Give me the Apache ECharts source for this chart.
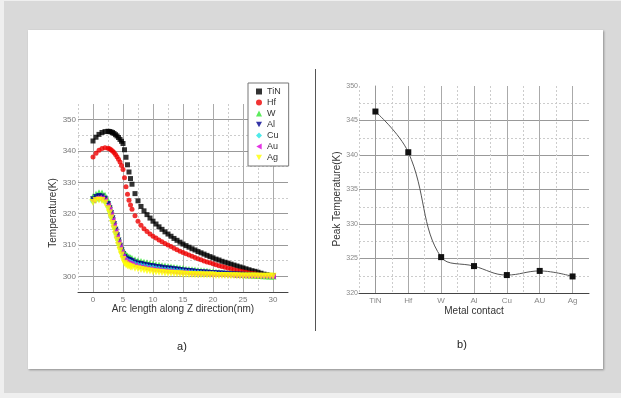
<!DOCTYPE html>
<html>
<head>
<meta charset="utf-8">
<title>Temperature profiles</title>
<script src="https://cdn.jsdelivr.net/npm/echarts@6/dist/echarts.min.js"></script>
<style>
    html, body { margin: 0; padding: 0; }
    body { width: 621px; height: 398px; background: #efefef; position: relative; overflow: hidden; }
    .frame { position: absolute; left: 4px; top: 1px; width: 617px; height: 392px; background: #d9d9d9; }
    .card { position: absolute; left: 28px; top: 30px; width: 575px; height: 339px; background: #fff; box-shadow: 1px 1px 2px rgba(0, 0, 0, 0.35); }
    #main { position: absolute; left: 0; top: 0; width: 621px; height: 398px; }
</style>
</head>
<body>
<div class="frame"></div>
<div class="card"></div>
<div id="main"></div>
<script>
    // a) temperature along the arc (nm), one row per metal
    var arcLen = [0, 0.5, 1, 1.5, 2, 2.5,
        2.75, 3, 3.25, 3.5, 3.75, 4, 4.25, 4.5, 4.75, 5, 5.25, 5.5, 5.75, 6, 6.25, 6.5,
        7, 7.5, 8, 8.5, 9, 9.5,
        10, 10.5, 11, 11.5, 12, 12.5, 13, 13.5, 14, 14.5, 15, 15.5, 16, 16.5, 17, 17.5, 18, 18.5, 19, 19.5,
        20, 20.5, 21, 21.5, 22, 22.5, 23, 23.5, 24, 24.5, 25, 25.5, 26, 26.5, 27, 27.5, 28, 28.5, 29, 29.5, 30];

    var tin = [343.2, 344.4, 345.3, 345.9, 346.2, 346.3,
        346.2, 346.1, 345.9, 345.6, 345.2, 344.8, 344.3, 343.7, 343.1, 342.4, 340.4, 338.0, 335.6, 333.3, 331.2, 329.4,
        326.4, 324.1, 322.3, 320.9, 319.7, 318.6,
        317.6, 316.7, 315.8, 315.0, 314.2, 313.5, 312.8, 312.1, 311.5, 310.9, 310.3, 309.8, 309.3, 308.8, 308.4, 307.9, 307.5, 307.1, 306.7, 306.3,
        305.9, 305.5, 305.2, 304.8, 304.5, 304.2, 303.9, 303.6, 303.3, 303.0, 302.7, 302.4, 302.1, 301.8, 301.6, 301.3, 301.0, 300.7, 300.5, 300.3, 300.1];
    var hf = [338.1, 339.3, 340.2, 340.8, 341.0, 340.9,
        340.7, 340.4, 340.0, 339.5, 338.9, 338.2, 337.4, 336.5, 335.4, 334.1, 331.5, 328.6, 326.2, 324.3, 322.8, 321.4,
        319.3, 317.6, 316.3, 315.2, 314.3, 313.5,
        312.8, 312.2, 311.6, 311.0, 310.5, 310.0, 309.5, 309.0, 308.5, 308.0, 307.6, 307.2, 306.8, 306.4, 306.0, 305.6, 305.3, 304.9, 304.6, 304.3,
        304.0, 303.7, 303.4, 303.1, 302.9, 302.6, 302.4, 302.1, 301.9, 301.7, 301.5, 301.3, 301.1, 300.9, 300.8, 300.6, 300.5, 300.3, 300.2, 300.1, 300.0];
    var w = [325.4, 326.2, 326.7, 326.6, 325.9, 324.2,
        322.9, 321.3, 319.6, 317.8, 316.0, 314.2, 312.5, 310.9, 309.5, 308.3, 307.5, 306.9, 306.5, 306.2, 305.9, 305.7,
        305.3, 305.0, 304.7, 304.5, 304.3, 304.1,
        303.9, 303.7, 303.6, 303.4, 303.3, 303.1, 303.0, 302.8, 302.7, 302.6, 302.5, 302.3, 302.2, 302.1, 302.0, 301.9, 301.8, 301.7, 301.6, 301.5,
        301.4, 301.3, 301.2, 301.1, 301.0, 300.9, 300.9, 300.8, 300.7, 300.6, 300.6, 300.5, 300.5, 300.4, 300.4, 300.3, 300.3, 300.2, 300.2, 300.1, 300.1];
    var al = [324.6, 325.3, 325.6, 325.5, 324.8, 323.1,
        321.8, 320.2, 318.5, 316.7, 314.9, 313.1, 311.4, 309.8, 308.4, 307.1, 306.2, 305.7, 305.4, 305.2, 305.0, 304.8,
        304.4, 304.1, 303.9, 303.7, 303.5, 303.3,
        303.2, 303.0, 302.9, 302.7, 302.6, 302.5, 302.4, 302.3, 302.2, 302.0, 301.9, 301.8, 301.7, 301.6, 301.5, 301.4, 301.3, 301.2, 301.2, 301.1,
        301.1, 301.0, 300.9, 300.9, 300.8, 300.7, 300.7, 300.6, 300.6, 300.5, 300.5, 300.4, 300.4, 300.3, 300.3, 300.2, 300.2, 300.2, 300.1, 300.1, 300.1];
    var cu = [323.8, 324.4, 324.6, 324.5, 323.8, 322.2,
        320.9, 319.4, 317.7, 315.9, 314.1, 312.4, 310.7, 309.2, 307.8, 306.6, 305.8, 305.3, 305.0, 304.8, 304.6, 304.4,
        304.0, 303.7, 303.5, 303.3, 303.1, 302.9,
        302.8, 302.6, 302.5, 302.3, 302.2, 302.1, 302.0, 301.9, 301.8, 301.7, 301.6, 301.5, 301.4, 301.3, 301.2, 301.2, 301.1, 301.0, 301.0, 300.9,
        300.9, 300.8, 300.7, 300.7, 300.6, 300.5, 300.5, 300.4, 300.4, 300.3, 300.3, 300.3, 300.3, 300.2, 300.2, 300.2, 300.1, 300.1, 300.1, 300.1, 300.0];
    var au = [324.2, 324.9, 325.1, 325.0, 324.3, 322.6,
        321.3, 319.7, 318.0, 316.2, 314.4, 312.6, 310.9, 309.3, 307.8, 306.3, 305.2, 304.7, 304.4, 304.2, 304.0, 303.8,
        303.5, 303.2, 303.0, 302.8, 302.6, 302.4,
        302.3, 302.1, 302.0, 301.9, 301.8, 301.7, 301.6, 301.5, 301.4, 301.3, 301.3, 301.2, 301.1, 301.0, 301.0, 300.9, 300.9, 300.8, 300.8, 300.7,
        300.7, 300.6, 300.6, 300.5, 300.5, 300.4, 300.4, 300.3, 300.3, 300.3, 300.3, 300.2, 300.2, 300.2, 300.2, 300.1, 300.1, 300.1, 300.1, 300.0, 300.0];
    var ag = [323.6, 324.2, 324.4, 324.2, 323.4, 321.6,
        320.2, 318.6, 316.9, 315.1, 313.3, 311.5, 309.8, 308.2, 306.8, 305.4, 304.2, 303.7, 303.4, 303.2, 303.0, 302.9,
        302.6, 302.4, 302.2, 302.0, 301.8, 301.7,
        301.5, 301.4, 301.3, 301.2, 301.1, 301.0, 301.0, 300.9, 300.8, 300.8, 300.7, 300.7, 300.6, 300.6, 300.5, 300.5, 300.5, 300.4, 300.4, 300.4,
        300.4, 300.3, 300.3, 300.3, 300.3, 300.2, 300.2, 300.2, 300.2, 300.1, 300.1, 300.1, 300.1, 300.1, 300.1, 300.0, 300.0, 300.0, 300.0, 300.0, 300.0];

    // b) peak temperature per metal contact
    var metals = ['TiN', 'Hf', 'W', 'Al', 'Cu', 'AU', 'Ag'];
    var peakTemp = [346.3, 340.4, 325.2, 323.9, 322.6, 323.2, 322.4];

    var FONT = 'Liberation Sans';
    var TRI_DOWN = 'path://M0,0L10,0L5,9Z';
    var TRI_LEFT = 'path://M9,0L9,10L0,5Z';

    var curves = [
        { name: 'TiN', data: tin, color: '#000000', symbol: 'rect', size: 5 },
        { name: 'Hf', data: hf, color: '#ee0000', symbol: 'circle', size: 5 },
        { name: 'W', data: w, color: '#33e633', symbol: 'triangle', size: 7 },
        { name: 'Al', data: al, color: '#000090', symbol: TRI_DOWN, size: 6 },
        { name: 'Cu', data: cu, color: '#22e5e5', symbol: 'diamond', size: 6 },
        { name: 'Au', data: au, color: '#dd00dd', symbol: TRI_LEFT, size: 6 },
        { name: 'Ag', data: ag, color: '#ffff00', symbol: TRI_DOWN, size: 7 }
    ];

    var series = curves.map(function(c) {
        return {
            name: c.name,
            type: 'scatter',
            xAxisIndex: 0,
            yAxisIndex: 0,
            symbol: c.symbol,
            symbolSize: c.size,
            itemStyle: { color: c.color },
            data: arcLen.map(function(x, i) { return [x, c.data[i]]; })
        };
    });

    series.push({
        name: 'Peak',
        type: 'line',
        xAxisIndex: 2,
        yAxisIndex: 2,
        smooth: 0.4,
        symbol: 'rect',
        symbolSize: 6,
        lineStyle: { color: '#555', width: 1 },
        itemStyle: { color: '#111' },
        data: peakTemp.map(function(v, i) { return [i, v]; })
    });

    var solidGrid = function(colors) {
        return { show: true, showMaxLine: false, lineStyle: { color: colors, width: 1, type: 'solid' } };
    };
    var dotGrid = function(colors) {
        return { show: true, showMaxLine: false, lineStyle: { color: colors, width: 1, type: [2, 2] } };
    };
    var hiddenAxis = { axisLine: { show: false }, axisTick: { show: false }, axisLabel: { show: false } };

    var myChart = echarts.init(document.getElementById('main'));
    var option = {
        animation: false,
        backgroundColor: 'transparent',
        textStyle: { fontFamily: FONT },
        grid: [
            { left: 78, top: 104, width: 210, height: 188 },
            { left: 359, top: 86, width: 230, height: 207 }
        ],
        legend: {
            data: curves.map(function(c) { return c.name; }),
            orient: 'vertical',
            left: 248,
            top: 83,
            padding: [4, 8, 4, 8],
            itemWidth: 6,
            itemHeight: 6,
            itemGap: 2,
            backgroundColor: '#fff',
            borderColor: '#777',
            borderWidth: 1,
            borderRadius: 0,
            textStyle: { fontSize: 9, color: '#333', fontFamily: FONT }
        },
        xAxis: [
            {
                gridIndex: 0, type: 'value', min: -2.5, max: 32.5, interval: 2.5,
                axisLine: { show: true, onZero: false, lineStyle: { color: '#444' } },
                axisTick: { show: false },
                axisLabel: {
                    fontSize: 8, color: '#777', margin: 4,
                    formatter: function(v) { return v % 5 === 0 ? String(v) : ''; }
                },
                splitLine: solidGrid(['transparent', '#aaa'])
            },
            Object.assign({
                gridIndex: 0, type: 'value', min: -2.5, max: 32.5, interval: 2.5, position: 'top',
                splitLine: dotGrid(['#ccc', 'transparent'])
            }, hiddenAxis),
            {
                gridIndex: 1, type: 'value', min: -0.5, max: 6.5, interval: 0.5,
                axisLine: { show: true, onZero: false, lineStyle: { color: '#444' } },
                axisTick: { show: false },
                axisLabel: {
                    fontSize: 8, color: '#888', margin: 4,
                    formatter: function(v) { return Number.isInteger(v) && metals[v] ? metals[v] : ''; }
                },
                splitLine: solidGrid(['transparent', '#aaa'])
            },
            Object.assign({
                gridIndex: 1, type: 'value', min: -0.5, max: 6.5, interval: 0.5, position: 'top',
                splitLine: dotGrid(['#ccc', 'transparent'])
            }, hiddenAxis)
        ],
        yAxis: [
            {
                gridIndex: 0, type: 'value', min: 295, max: 355, interval: 5,
                axisLine: { show: false },
                axisTick: { show: false },
                axisLabel: {
                    fontSize: 8, color: '#777', margin: 2,
                    formatter: function(v) { return v % 10 === 0 ? String(v) : ''; }
                },
                splitLine: solidGrid(['transparent', '#999'])
            },
            Object.assign({
                gridIndex: 0, type: 'value', min: 295, max: 355, interval: 5, position: 'right',
                splitLine: dotGrid(['#ccc', 'transparent'])
            }, hiddenAxis),
            {
                gridIndex: 1, type: 'value', min: 320, max: 350, interval: 2.5,
                axisLine: { show: true, lineStyle: { color: '#999' } },
                axisTick: { show: false },
                axisLabel: {
                    fontSize: 7, color: '#888', margin: 1,
                    formatter: function(v) { return v % 5 === 0 ? String(v) : ''; }
                },
                splitLine: solidGrid(['#999', 'transparent'])
            },
            Object.assign({
                gridIndex: 1, type: 'value', min: 320, max: 350, interval: 2.5, position: 'right',
                splitLine: dotGrid(['transparent', '#ccc'])
            }, hiddenAxis)
        ],
        graphic: [
            { type: 'line', shape: { x1: 315.5, y1: 69, x2: 315.5, y2: 331 }, style: { stroke: '#555', lineWidth: 1 } },
            { type: 'text', x: 53, y: 213, rotation: Math.PI / 2,
                style: { text: 'Temperature(K)', fill: '#333', font: '10px "Liberation Sans"', align: 'center', verticalAlign: 'middle' } },
            { type: 'text', x: 183, y: 309,
                style: { text: 'Arc length along Z direction(nm)', fill: '#333', font: '10px "Liberation Sans"', align: 'center', verticalAlign: 'middle' } },
            { type: 'text', x: 337, y: 199, rotation: Math.PI / 2,
                style: { text: 'Peak Temperature(K)', fill: '#333', font: '10px "Liberation Sans"', align: 'center', verticalAlign: 'middle' } },
            { type: 'text', x: 474, y: 311,
                style: { text: 'Metal contact', fill: '#333', font: '10px "Liberation Sans"', align: 'center', verticalAlign: 'middle' } },
            { type: 'text', x: 182, y: 347,
                style: { text: 'a)', fill: '#222', font: '11px "Liberation Sans"', align: 'center', verticalAlign: 'middle' } },
            { type: 'text', x: 462, y: 345,
                style: { text: 'b)', fill: '#222', font: '11px "Liberation Sans"', align: 'center', verticalAlign: 'middle' } }
        ],
        series: series
    };
    myChart.setOption(option);
</script>
</body>
</html>
